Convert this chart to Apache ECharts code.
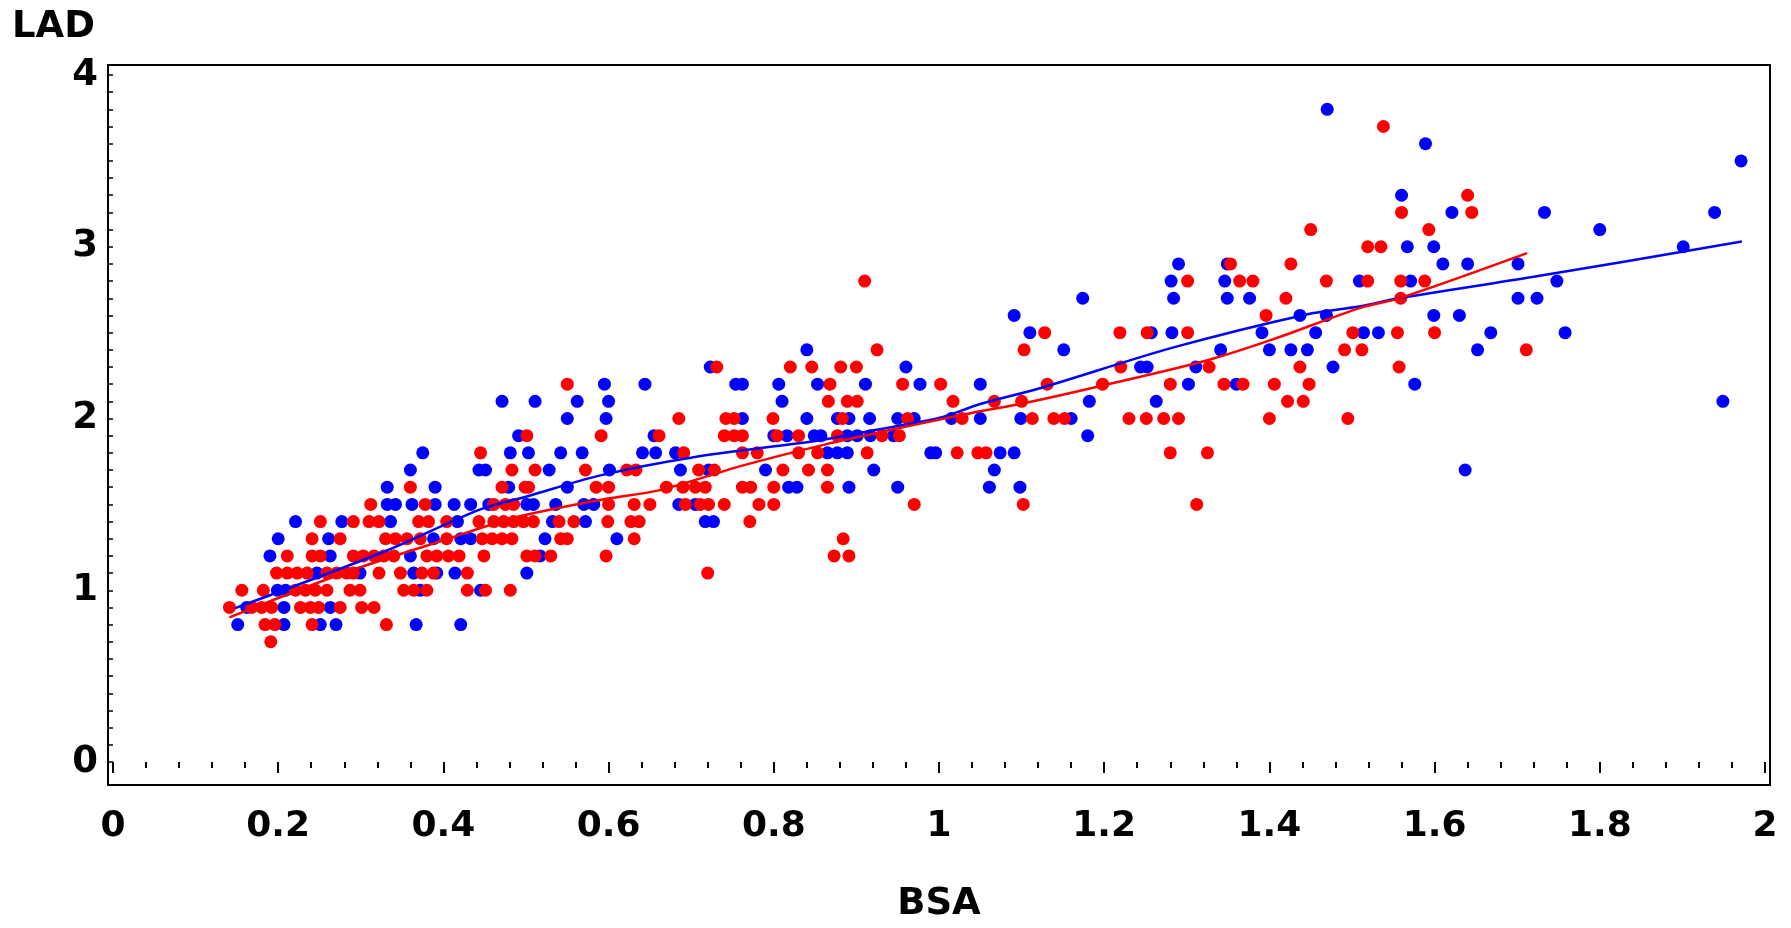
<!DOCTYPE html>
<html>
<head>
<meta charset="utf-8">
<script src="https://cdn.jsdelivr.net/npm/echarts@6/dist/echarts.min.js"></script>
<style>html,body{margin:0;padding:0;background:#fff;}#chart{width:1791px;height:928px;}</style>
</head>
<body>
<div id="chart"></div>
<script>
// ---- Data: [BSA, LAD] ----
const bluePoints = [
  [0.151,0.8],[0.207,0.8],[0.251,0.8],[0.270,0.8],[0.367,0.8],[0.421,0.8],
  [0.162,0.9],[0.207,0.9],[0.263,0.9],
  [0.199,1.0],[0.209,1.0],[0.372,1.0],[0.445,1.0],
  [0.247,1.1],[0.299,1.1],[0.364,1.1],[0.392,1.1],[0.414,1.1],[0.501,1.1],
  [0.190,1.2],[0.263,1.2],[0.360,1.2],[0.517,1.2],
  [0.200,1.3],[0.261,1.3],[0.388,1.3],[0.421,1.3],[0.433,1.3],[0.523,1.3],[0.610,1.3],
  [0.221,1.4],[0.277,1.4],[0.336,1.4],[0.417,1.4],[0.532,1.4],[0.572,1.4],[0.717,1.4],[0.727,1.4],
  [0.332,1.5],[0.342,1.5],[0.362,1.5],[0.390,1.5],[0.413,1.5],[0.433,1.5],[0.455,1.5],[0.501,1.5],[0.509,1.5],[0.536,1.5],[0.570,1.5],[0.582,1.5],[0.685,1.5],[0.705,1.5],
  [0.332,1.6],[0.390,1.6],[0.479,1.6],[0.550,1.6],[0.818,1.6],[0.828,1.6],[0.891,1.6],[0.950,1.6],[1.061,1.6],[1.098,1.6],
  [0.360,1.7],[0.443,1.7],[0.451,1.7],[0.528,1.7],[0.601,1.7],[0.687,1.7],[0.721,1.7],[0.790,1.7],[0.921,1.7],[1.067,1.7],[1.637,1.7],
  [0.375,1.8],[0.481,1.8],[0.503,1.8],[0.542,1.8],[0.568,1.8],[0.641,1.8],[0.657,1.8],[0.681,1.8],[0.865,1.8],[0.877,1.8],[0.889,1.8],[0.990,1.8],[0.996,1.8],[1.074,1.8],[1.091,1.8],
  [0.491,1.9],[0.655,1.9],[0.800,1.9],[0.816,1.9],[0.849,1.9],[0.857,1.9],[0.889,1.9],[0.901,1.9],[0.917,1.9],[0.945,1.9],[1.180,1.9],
  [0.550,2.0],[0.597,2.0],[0.762,2.0],[0.840,2.0],[0.877,2.0],[0.891,2.0],[0.916,2.0],[0.950,2.0],[0.970,2.0],[1.015,2.0],[1.050,2.0],[1.099,2.0],[1.160,2.0],
  [0.471,2.1],[0.511,2.1],[0.562,2.1],[0.600,2.1],[0.810,2.1],[1.182,2.1],[1.263,2.1],[1.949,2.1],
  [0.595,2.2],[0.644,2.2],[0.754,2.2],[0.762,2.2],[0.806,2.2],[0.853,2.2],[0.911,2.2],[0.977,2.2],[1.050,2.2],[1.302,2.2],[1.360,2.2],[1.576,2.2],
  [0.723,2.3],[0.960,2.3],[1.244,2.3],[1.252,2.3],[1.311,2.3],[1.477,2.3],
  [0.840,2.4],[1.151,2.4],[1.341,2.4],[1.400,2.4],[1.426,2.4],[1.446,2.4],[1.652,2.4],
  [1.110,2.5],[1.257,2.5],[1.282,2.5],[1.391,2.5],[1.456,2.5],[1.514,2.5],[1.532,2.5],[1.668,2.5],[1.758,2.5],
  [1.091,2.6],[1.437,2.6],[1.469,2.6],[1.599,2.6],[1.630,2.6],
  [1.174,2.7],[1.284,2.7],[1.349,2.7],[1.376,2.7],[1.701,2.7],[1.724,2.7],
  [1.281,2.8],[1.346,2.8],[1.509,2.8],[1.571,2.8],[1.748,2.8],
  [1.290,2.9],[1.349,2.9],[1.610,2.9],[1.640,2.9],[1.701,2.9],
  [1.567,3.0],[1.599,3.0],[1.901,3.0],
  [1.800,3.1],
  [1.621,3.2],[1.733,3.2],[1.939,3.2],
  [1.560,3.3],
  [1.971,3.5],
  [1.589,3.6],
  [1.470,3.8]
];

const redPoints = [
  [0.191,0.7],
  [0.184,0.8],[0.196,0.8],[0.241,0.8],[0.331,0.8],
  [0.141,0.9],[0.168,0.9],[0.180,0.9],[0.192,0.9],[0.227,0.9],[0.239,0.9],[0.249,0.9],[0.275,0.9],[0.301,0.9],[0.316,0.9],
  [0.156,1.0],[0.182,1.0],[0.221,1.0],[0.233,1.0],[0.245,1.0],[0.259,1.0],[0.287,1.0],[0.299,1.0],[0.352,1.0],[0.364,1.0],[0.380,1.0],[0.429,1.0],[0.451,1.0],[0.481,1.0],
  [0.198,1.1],[0.211,1.1],[0.223,1.1],[0.235,1.1],[0.259,1.1],[0.271,1.1],[0.283,1.1],[0.291,1.1],[0.322,1.1],[0.348,1.1],[0.374,1.1],[0.388,1.1],[0.429,1.1],[0.720,1.1],
  [0.211,1.2],[0.241,1.2],[0.251,1.2],[0.291,1.2],[0.303,1.2],[0.316,1.2],[0.328,1.2],[0.340,1.2],[0.380,1.2],[0.392,1.2],[0.406,1.2],[0.419,1.2],[0.449,1.2],[0.501,1.2],[0.511,1.2],[0.530,1.2],[0.597,1.2],[0.873,1.2],[0.891,1.2],
  [0.241,1.3],[0.275,1.3],[0.330,1.3],[0.342,1.3],[0.356,1.3],[0.372,1.3],[0.404,1.3],[0.447,1.3],[0.459,1.3],[0.471,1.3],[0.483,1.3],[0.542,1.3],[0.550,1.3],[0.631,1.3],[0.884,1.3],
  [0.251,1.4],[0.291,1.4],[0.310,1.4],[0.322,1.4],[0.370,1.4],[0.382,1.4],[0.404,1.4],[0.443,1.4],[0.461,1.4],[0.473,1.4],[0.485,1.4],[0.497,1.4],[0.509,1.4],[0.540,1.4],[0.558,1.4],[0.599,1.4],[0.627,1.4],[0.637,1.4],[0.771,1.4],
  [0.312,1.5],[0.378,1.5],[0.461,1.5],[0.475,1.5],[0.485,1.5],[0.600,1.5],[0.631,1.5],[0.650,1.5],[0.693,1.5],[0.711,1.5],[0.721,1.5],[0.740,1.5],[0.782,1.5],[0.800,1.5],[0.970,1.5],[1.102,1.5],[1.312,1.5],
  [0.360,1.6],[0.471,1.6],[0.499,1.6],[0.503,1.6],[0.585,1.6],[0.600,1.6],[0.670,1.6],[0.690,1.6],[0.705,1.6],[0.717,1.6],[0.762,1.6],[0.772,1.6],[0.800,1.6],[0.865,1.6],
  [0.483,1.7],[0.511,1.7],[0.572,1.7],[0.622,1.7],[0.633,1.7],[0.709,1.7],[0.728,1.7],[0.811,1.7],[0.842,1.7],[0.865,1.7],
  [0.445,1.8],[0.691,1.8],[0.762,1.8],[0.780,1.8],[0.830,1.8],[0.853,1.8],[0.913,1.8],[1.022,1.8],[1.047,1.8],[1.057,1.8],[1.280,1.8],[1.325,1.8],
  [0.501,1.9],[0.591,1.9],[0.661,1.9],[0.740,1.9],[0.752,1.9],[0.762,1.9],[0.804,1.9],[0.830,1.9],[0.877,1.9],[0.931,1.9],[0.952,1.9],
  [0.685,2.0],[0.742,2.0],[0.752,2.0],[0.799,2.0],[0.883,2.0],[0.962,2.0],[1.028,2.0],[1.113,2.0],[1.139,2.0],[1.152,2.0],[1.230,2.0],[1.251,2.0],[1.272,2.0],[1.290,2.0],[1.400,2.0],[1.495,2.0],
  [0.866,2.1],[0.889,2.1],[0.901,2.1],[1.017,2.1],[1.067,2.1],[1.100,2.1],[1.422,2.1],[1.441,2.1],
  [0.550,2.2],[0.868,2.2],[0.956,2.2],[1.002,2.2],[1.131,2.2],[1.198,2.2],[1.280,2.2],[1.345,2.2],[1.368,2.2],[1.406,2.2],[1.448,2.2],
  [0.731,2.3],[0.820,2.3],[0.846,2.3],[0.881,2.3],[0.900,2.3],[1.220,2.3],[1.327,2.3],[1.437,2.3],[1.557,2.3],
  [0.925,2.4],[1.103,2.4],[1.491,2.4],[1.512,2.4],[1.711,2.4],
  [1.128,2.5],[1.219,2.5],[1.252,2.5],[1.301,2.5],[1.501,2.5],[1.555,2.5],[1.600,2.5],
  [1.396,2.6],
  [1.420,2.7],[1.559,2.7],
  [0.910,2.8],[1.301,2.8],[1.364,2.8],[1.380,2.8],[1.469,2.8],[1.519,2.8],[1.559,2.8],[1.588,2.8],
  [1.353,2.9],[1.426,2.9],
  [1.519,3.0],[1.535,3.0],
  [1.450,3.1],[1.593,3.1],
  [1.560,3.2],[1.645,3.2],
  [1.640,3.3],
  [1.538,3.7]
];

// Smoothed (loess-like) fit curves
const blueFit = [
  [0.148,0.896],[0.331,1.230],[0.444,1.469],[0.501,1.546],[0.590,1.669],[0.703,1.775],
  [0.852,1.870],[0.916,1.927],[1.001,2.004],[1.050,2.084],[1.122,2.176],[1.284,2.414],
  [1.445,2.606],[1.510,2.653],[1.558,2.701],[1.720,2.825],[1.972,3.030]
];
const redFit = [
  [0.141,0.842],[0.283,1.106],[0.404,1.297],[0.485,1.421],[0.590,1.526],[0.662,1.583],
  [0.763,1.727],[0.864,1.851],[0.945,1.937],[1.001,1.994],[1.050,2.042],[1.098,2.084],
  [1.197,2.191],[1.324,2.338],[1.405,2.462],[1.510,2.644],[1.558,2.701],[1.712,2.963]
];

const xTicks = { min: 0, max: 2, interval: 0.2 };
const yTicks = { min: 0, max: 4, interval: 1 };

const FONT = 'DejaVu Sans';
const chart = echarts.init(document.getElementById('chart'), null, { renderer: 'canvas' });

const grid = { left: 113, right: 26, top: 75, bottom: 155 };
const xOff = 12, yOff = 5;

chart.setOption({
  backgroundColor: '#ffffff',
  animation: false,
  title: {
    text: 'LAD', left: 12, top: 9, padding: 0,
    textStyle: { fontFamily: FONT, fontSize: 37, fontWeight: 'bold', color: '#000' }
  },
  grid: grid,
  graphic: [{
    type: 'rect', silent: true, z: 10,
    shape: { x: grid.left - yOff, y: grid.top - 10, width: 1791 - grid.right - grid.left + yOff + 5, height: 928 - grid.bottom - grid.top + 10 + xOff },
    style: { fill: 'none', stroke: '#000', lineWidth: 2 }
  }],
  xAxis: {
    type: 'value', min: xTicks.min, max: xTicks.max, interval: xTicks.interval,
    offset: xOff,
    name: 'BSA', nameLocation: 'middle', nameGap: 112,
    nameTextStyle: { fontFamily: FONT, fontSize: 37, fontWeight: 'bold', color: '#000' },
    axisLine: { show: false },
    axisTick: { show: true, length: 11, lineStyle: { color: '#000', width: 2 } },
    minorTick: { show: true, splitNumber: 5, length: 6, lineStyle: { color: '#000', width: 2 } },
    splitLine: { show: false },
    axisLabel: { margin: 35, fontFamily: FONT, fontSize: 36, fontWeight: 'bold', color: '#000' }
  },
  yAxis: {
    type: 'value', min: yTicks.min, max: yTicks.max, interval: yTicks.interval,
    offset: yOff,
    axisLine: { show: false },
    axisTick: { show: true, length: 6, lineStyle: { color: '#000', width: 1.5 } },
    minorTick: { show: true, splitNumber: 10, length: 4, lineStyle: { color: '#000', width: 1.5 } },
    splitLine: { show: false },
    axisLabel: { margin: 10, padding: [6, 0, 0, 0], fontFamily: FONT, fontSize: 37, fontWeight: 'bold', color: '#000' }
  },
  series: [
    { name: 'Blue', type: 'scatter', data: bluePoints, symbol: 'circle', symbolSize: 13,
      itemStyle: { color: '#0000ff', opacity: 1 }, z: 2 },
    { name: 'Red', type: 'scatter', data: redPoints, symbol: 'circle', symbolSize: 13,
      itemStyle: { color: '#ff0000', opacity: 1 }, z: 3 },
    { name: 'Blue fit', type: 'line', data: blueFit, smooth: 0.3, showSymbol: false,
      lineStyle: { color: '#0000ff', width: 2.5 }, z: 4 },
    { name: 'Red fit', type: 'line', data: redFit, smooth: 0.3, showSymbol: false,
      lineStyle: { color: '#ff0000', width: 2.5 }, z: 5 }
  ]
});
</script>
</body>
</html>
